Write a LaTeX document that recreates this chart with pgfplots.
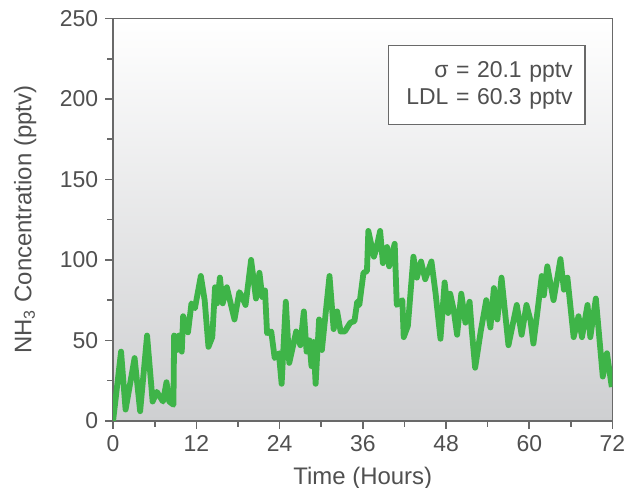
\documentclass[border=0pt]{standalone}
\usepackage{pgfplots}
\pgfplotsset{compat=1.18}
\usepackage{fontspec}
\setmainfont{Liberation Sans}
\definecolor{linegreen}{RGB}{62,180,72}
\definecolor{axisgray}{RGB}{105,105,105}
\definecolor{textgray}{RGB}{80,80,80}
\definecolor{bggray}{RGB}{206,207,209}
\begin{document}
\begin{tikzpicture}
\begin{axis}[
  scale only axis, width=249.5bp, height=201bp,
  xmin=0, xmax=72, ymin=0, ymax=250,
  xtick={0,12,...,72}, ytick={0,50,...,250},
  minor x tick num=1, minor y tick num=1,
  tick pos=left, tick align=outside,
  major tick length=4bp, minor tick length=3bp,
  axis line style={draw=axisgray, line width=0.8bp},
  every tick/.style={draw=axisgray, line width=0.8bp},
  tick label style={font=\fontsize{11.5}{13}\selectfont, text=textgray},
  /pgf/number format/assume math mode=true,
  xlabel={Time (Hours)},
  ylabel={NH\textsubscript{3} Concentration (pptv)},
  every axis x label/.style={at={(axis description cs:0.5,0)}, anchor=center, yshift=-28.5bp, font=\fontsize{12}{14}\selectfont, text=textgray},
  every axis y label/.style={at={(axis description cs:-0.176,0.5)}, rotate=90, anchor=center, font=\fontsize{12}{14}\selectfont, text=textgray},
  axis background/.style={top color=white, bottom color=bggray},
]
\addplot[color=linegreen, line width=2.9bp, line join=round, mark=none] coordinates {
(0,0) (1.15,43) (1.8,7) (3.1,39) (3.9,6) (4.9,53) (5.7,12) (6.3,18) (6.9,14) (7.2,12)
(7.7,24) (8.1,12) (8.7,10) (8.8,53) (9.2,44) (9.5,53) (9.9,43) (10.1,65) (10.8,55)
(11.3,73) (11.8,70) (12.65,90) (13.2,75) (13.75,46) (14.3,52) (14.7,83) (15.0,73)
(15.4,89) (15.8,73) (16.4,83) (17.5,63) (18.2,80) (18.5,78) (19.1,72) (19.9,100)
(20.6,76) (21.1,92) (21.5,77) (21.9,81) (22.2,54.5) (22.8,55.5) (23.3,39) (23.9,42)
(24.3,23) (24.9,74) (25.4,36) (26.4,55.5) (27.0,47) (27.5,68) (27.9,43) (28.3,50)
(28.6,34) (28.9,49) (29.2,23) (29.7,63) (30.1,44) (31.2,90) (31.8,57) (32.3,68)
(32.8,55.5) (33.4,55.5) (34.2,61) (34.8,62) (35.2,74) (35.5,72) (36.1,92) (36.6,93)
(36.8,118) (37.6,102) (37.9,106) (38.5,118) (38.9,98) (39.5,108) (39.8,96) (40.6,110)
(40.9,72) (41.7,75) (41.9,52) (42.5,59) (43.3,102) (43.8,89) (44.4,99) (45.0,88)
(45.9,99) (46.5,79) (47.2,51) (47.8,86) (48.3,67) (48.6,79) (49.1,69) (49.6,53.5)
(50.2,79) (50.8,61) (51.4,74) (51.7,57) (52.2,33) (53.0,55.5) (53.8,75) (54.4,58)
(54.9,82.5) (55.4,63) (56.0,89) (57.0,47) (58.2,72) (58.9,53.5) (59.6,72) (60.2,62)
(60.6,48) (61.1,65) (61.8,90) (62.1,78) (62.6,96) (63.5,75) (64.5,100.5) (65.0,81.5)
(65.5,89) (66.4,52) (67.1,65) (67.6,52) (68.4,72) (68.8,52) (69.6,76) (70.6,27.5)
(71.2,42) (71.9,21)
};
\node[draw=axisgray, fill=white, line width=0.8bp, anchor=north east,
  text width=86bp, align=right, inner xsep=6bp, minimum height=39.5bp,
  font=\fontsize{11.5}{13.5}\selectfont, text=textgray]
  at (rel axis cs:0.946,0.935) {σ = 20.1 pptv\\LDL = 60.3 pptv};
\coordinate (sw) at (rel axis cs:0,0);
\coordinate (ne) at (rel axis cs:1,1);
\end{axis}
\pgfresetboundingbox
\path ([shift={(-56.5bp,-33.5bp)}]sw) rectangle ([shift={(6.75bp,9.25bp)}]ne);
\end{tikzpicture}
\end{document}
